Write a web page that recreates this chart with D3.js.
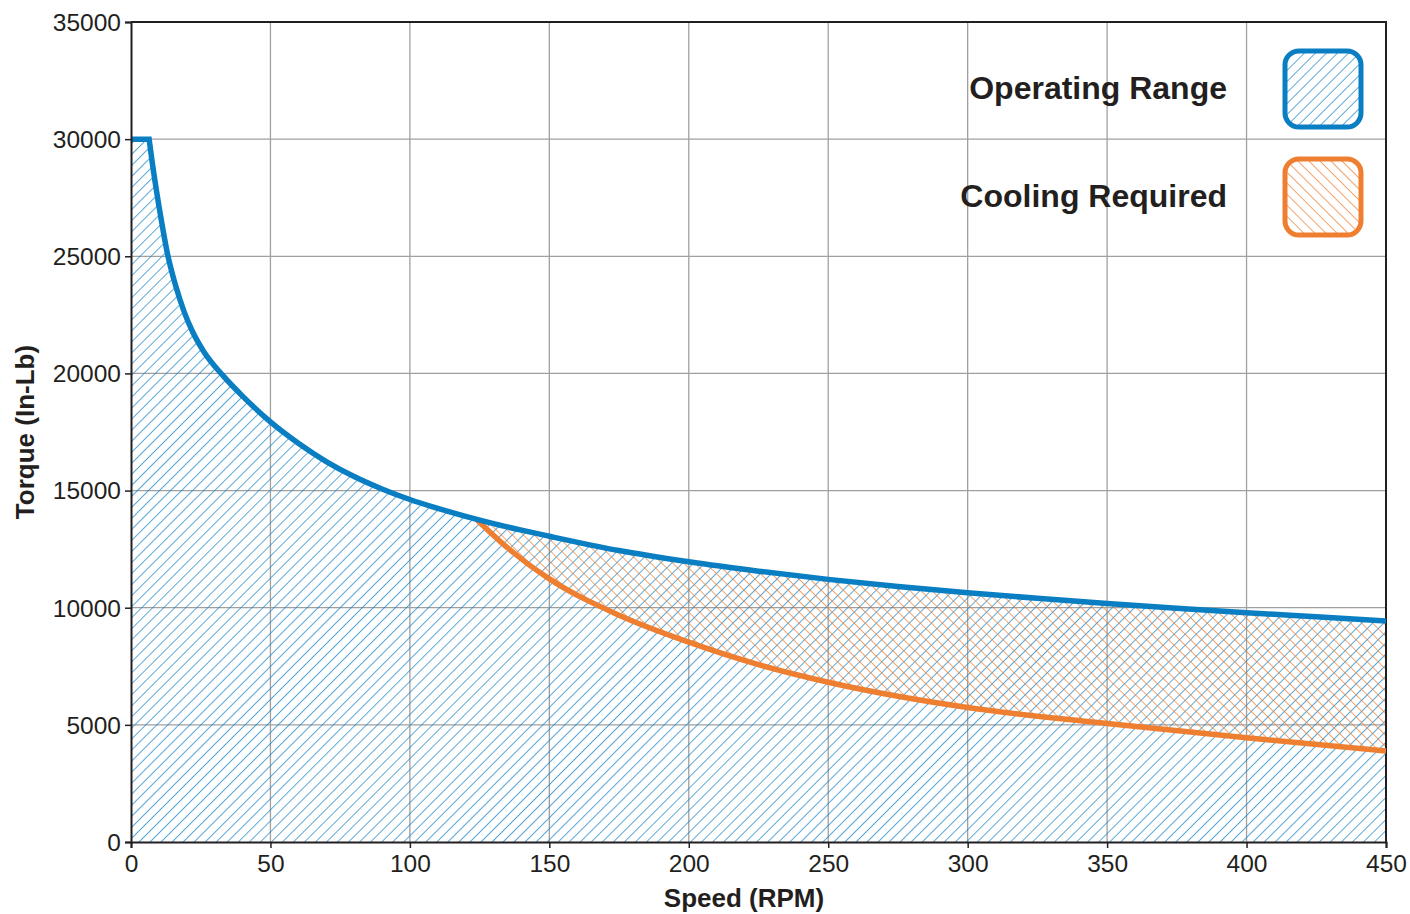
<!DOCTYPE html>
<html>
<head>
<meta charset="utf-8">
<script src="https://cdn.jsdelivr.net/npm/d3@7"></script>
<style>
  body { margin: 0; background: #fff; }
  svg { display: block; font-family: "Liberation Sans", Arial, Helvetica, sans-serif; }
</style>
</head>
<body>
<svg id="chart" width="1410" height="914"></svg>
<script>
// Operating range (blue) - torque vs speed
const opRpm    = [0, 6.5, 7.5, 9, 11, 13, 16, 19, 22, 26, 33, 40, 50, 60, 70, 80, 90, 100, 110, 120, 130, 140, 150, 175, 200, 225, 250, 275, 300, 325, 350, 375, 400, 425, 450];
const opTorque = [30000, 30000, 29100, 27900, 26450, 25150, 23750, 22650, 21800, 20950, 19905, 19030, 17930, 17020, 16240, 15600, 15070, 14620, 14240, 13900, 13590, 13310, 13050, 12440, 11960, 11560, 11210, 10910, 10640, 10400, 10180, 9980, 9790, 9610, 9430];

// Cooling required lower bound (orange)
const coolRpm    = [124, 135, 150, 175, 200, 225, 250, 275, 300, 350, 400, 450];
const coolTorque = [13760, 12560, 11230, 9680, 8530, 7570, 6820, 6220, 5740, 5060, 4450, 3880];

const xTicks = [0, 50, 100, 150, 200, 250, 300, 350, 400, 450];
const yTicks = [0, 5000, 10000, 15000, 20000, 25000, 30000, 35000];
const legendItems = ['Operating Range', 'Cooling Required'];

const BLUE = '#0a7ec2';
const ORANGE = '#ef7f30';
const TXT = '#231f20';

const svg = d3.select('#chart');
const margin = { top: 22, right: 24, bottom: 72, left: 131 };
const width = 1410 - margin.left - margin.right;   // 1255
const height = 914 - margin.top - margin.bottom;   // 820

const x = d3.scaleLinear().domain([0, 450]).range([0, width]);
const y = d3.scaleLinear().domain([0, 35000]).range([height, 0]);

const opData = opRpm.map((r, i) => ({ r, t: opTorque[i] }));
const coolData = coolRpm.map((r, i) => ({ r, t: coolTorque[i] }));

// hatch patterns
const defs = svg.append('defs');
function hatch(id, color, angle, gap) {
    const p = defs.append('pattern')
        .attr('id', id)
        .attr('patternUnits', 'userSpaceOnUse')
        .attr('width', gap).attr('height', gap)
        .attr('patternTransform', `rotate(${angle})`);
    p.append('line')
        .attr('x1', 0).attr('y1', -1).attr('x2', 0).attr('y2', gap + 1)
        .attr('stroke', color).attr('stroke-width', 1.4);
}
hatch('hatchBlue', '#1583c6', 45, 7.8);
hatch('hatchOrange', ORANGE, -45, 7.8);

const g = svg.append('g').attr('transform', `translate(${margin.left},${margin.top})`);

// grid
g.append('g').selectAll('line').data(xTicks.slice(1, -1)).join('line')
    .attr('x1', d => x(d)).attr('x2', d => x(d))
    .attr('y1', 0).attr('y2', height)
    .attr('stroke', '#a0a0a0').attr('stroke-width', 1.3);
g.append('g').selectAll('line').data(yTicks.slice(1, -1)).join('line')
    .attr('x1', 0).attr('x2', width)
    .attr('y1', d => y(d)).attr('y2', d => y(d))
    .attr('stroke', '#a0a0a0').attr('stroke-width', 1.3);

// blue curve path: flat part linear, rest monotone
const curveLine = d3.line().x(d => x(d.r)).y(d => y(d.t)).curve(d3.curveMonotoneX);
const opCurve = curveLine(opData.slice(1));
const opLinePath = `M${x(0)},${y(opData[0].t)}` + opCurve.replace(/^M/, 'L');
const opAreaPath = `M${x(0)},${y(0)}L${x(0)},${y(opData[0].t)}` + opCurve.replace(/^M/, 'L') +
    `L${x(450)},${y(0)}Z`;

defs.append('clipPath').attr('id', 'opClip').append('path').attr('d', opAreaPath);

g.append('path').attr('d', opAreaPath).attr('fill', 'url(#hatchBlue)');

// orange region: above cooling curve, below operating curve
const coolArea = d3.area()
    .x(d => x(d.r)).y0(d => y(d.t)).y1(0)
    .curve(d3.curveMonotoneX);
g.append('path').datum(coolData)
    .attr('d', coolArea)
    .attr('fill', 'url(#hatchOrange)')
    .attr('clip-path', 'url(#opClip)');

// frame (top/right)
g.append('path')
    .attr('d', `M0,0H${width}V${height}`)
    .attr('fill', 'none').attr('stroke', '#231f20').attr('stroke-width', 2);

// curves
g.append('path').datum(coolData)
    .attr('d', curveLine)
    .attr('fill', 'none').attr('stroke', ORANGE).attr('stroke-width', 5.5);
g.append('path').attr('d', opLinePath)
    .attr('fill', 'none').attr('stroke', BLUE).attr('stroke-width', 5.5)
    .attr('stroke-linejoin', 'miter');

// axes
const xAxis = g.append('g').attr('transform', `translate(0,${height})`)
    .call(d3.axisBottom(x).tickValues(xTicks).tickSize(6).tickPadding(7).tickFormat(d3.format('d')));
const yAxis = g.append('g')
    .call(d3.axisLeft(y).tickValues(yTicks).tickSize(6).tickPadding(4).tickFormat(d3.format('d')));
[xAxis, yAxis].forEach(a => {
    a.select('.domain').attr('stroke', '#231f20').attr('stroke-width', 2);
    a.selectAll('.tick line').attr('stroke', '#231f20').attr('stroke-width', 1.5);
    a.selectAll('.tick text').attr('fill', TXT)
        .style('font-size', '24.5px')
        .style('font-family', '"Liberation Sans", Arial, sans-serif');
});
yAxis.selectAll('.tick text').attr('dy', '0.34em');

// axis titles
svg.append('text')
    .attr('x', 744).attr('y', 907)
    .attr('text-anchor', 'middle')
    .attr('fill', TXT).style('font-size', '26px').style('font-weight', 'bold')
    .text('Speed (RPM)');
svg.append('text')
    .attr('transform', 'translate(34,432) rotate(-90)')
    .attr('text-anchor', 'middle')
    .attr('fill', TXT).style('font-size', '26px').style('font-weight', 'bold')
    .text('Torque (In-Lb)');

// legend
const legColors = [BLUE, ORANGE];
const legFills = ['url(#hatchBlue)', 'url(#hatchOrange)'];
const leg = svg.append('g');
legendItems.forEach((name, i) => {
    const top = 51 + i * 108;
    leg.append('rect')
        .attr('x', 1285).attr('y', top).attr('width', 76).attr('height', 76)
        .attr('rx', 14).attr('ry', 14)
        .attr('fill', legFills[i])
        .attr('stroke', legColors[i]).attr('stroke-width', 5);
    leg.append('text')
        .attr('x', 1227).attr('y', top + 48)
        .attr('text-anchor', 'end')
        .attr('fill', TXT).style('font-size', '32px').style('font-weight', 'bold')
        .text(name);
});
</script>
</body>
</html>
